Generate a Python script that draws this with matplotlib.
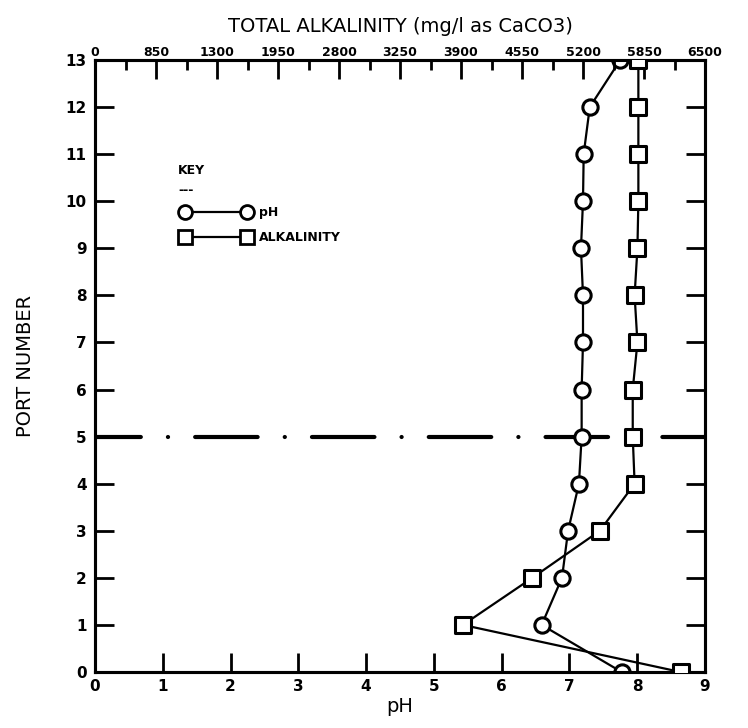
import numpy as np
import matplotlib
matplotlib.use("Agg")
import matplotlib.pyplot as plt
from matplotlib.lines import Line2D

plt.rcParams['lines.scale_dashes'] = False

# port numbers (y) and readings
ports = [0, 1, 2, 3, 4, 5, 6, 7, 8, 9, 10, 11, 12, 13]
ph = [7.77, 6.59, 6.89, 6.98, 7.14, 7.18, 7.18, 7.20, 7.20, 7.17, 7.20, 7.21, 7.30, 7.75]
alkalinity = [6240, 3920, 4660, 5380, 5750, 5730, 5730, 5780, 5750, 5780, 5790, 5790, 5790, 5790]

ph_ticks = [0, 1, 2, 3, 4, 5, 6, 7, 8, 9]
port_ticks = list(range(14))
alk_ticks = [0, 650, 1300, 1950, 2600, 3250, 3900, 4550, 5200, 5850, 6500]
alk_labels = ['0', '850', '1300', '1950', '2800', '3250', '3900', '4550', '5200', '5850', '6500']
divider_port = 5

fig = plt.figure(figsize=(7.48, 7.28), dpi=100)
ax = fig.add_axes([95 / 748, 1 - 672 / 728, 610 / 748, 612 / 728])
ax.set_xlim(0, 9)
ax.set_ylim(0, 13)

for s in ax.spines.values():
    s.set_linewidth(2.2)

ax.set_xticks(ph_ticks)
ax.set_yticks(port_ticks)
ax.tick_params(axis='both', direction='in', length=14, width=2, labelsize=11, right=True, top=False)
ax.tick_params(axis='x', pad=5)
ax.tick_params(axis='y', pad=6)
for lbl in ax.get_xticklabels() + ax.get_yticklabels():
    lbl.set_fontweight('bold')

ax.set_xlabel('pH', fontsize=14, labelpad=2)
ax.set_ylabel('PORT NUMBER', fontsize=14, labelpad=22)

# divider line at port 5
ax.axhline(divider_port, color='k', lw=3, linestyle=(12, (45, 19.5, 0.1, 19.5)),
           dash_capstyle='round', zorder=1)

ax.plot(ph, ports, color='k', lw=1.6, zorder=3)
ax.scatter(ph, ports, s=11 ** 2, marker='o', facecolors='white', edgecolors='k', linewidths=2.2, zorder=4)

ax2 = ax.twiny()
ax2.set_xlim(0, 6500)
ax2.set_xticks(alk_ticks)
ax2.set_xticklabels(alk_labels)
ax2.set_xticks(np.arange(325, 6500, 650), minor=True)
ax2.tick_params(axis='x', which='major', direction='in', length=14, width=2, labelsize=9, pad=1)
ax2.tick_params(axis='x', which='minor', direction='in', length=7, width=2)
for lbl in ax2.get_xticklabels():
    lbl.set_fontweight('bold')
for s in ax2.spines.values():
    s.set_linewidth(2.2)
ax2.set_xlabel('TOTAL ALKALINITY (mg/l as CaCO3)', fontsize=14, labelpad=10)

ax2.plot(alkalinity, ports, color='k', lw=1.6, zorder=3)
ax2.scatter(alkalinity, ports, s=11 ** 2, marker='s', facecolors='white', edgecolors='k', linewidths=2.2, zorder=4)

# key
ax.text(0.136, 0.82, 'KEY', transform=ax.transAxes, fontsize=9, fontweight='bold', va='center')
ax.text(0.136, 0.787, '---', transform=ax.transAxes, fontsize=9, fontweight='bold', va='center')
handles = [
    Line2D([], [], color='k', lw=1.6, marker='o', ms=10, mfc='white', mec='k', mew=2),
    Line2D([], [], color='k', lw=1.6, marker='s', ms=10, mfc='white', mec='k', mew=2),
]
leg = ax.legend(handles, ['pH', 'ALKALINITY'], numpoints=2, frameon=False,
                loc='upper left', bbox_to_anchor=(0.141, 0.761), borderpad=0, borderaxespad=0,
                handlelength=5.6, handletextpad=0.6, labelspacing=0.95,
                prop={'size': 9, 'weight': 'bold'})

fig.savefig('out.png', dpi=100)
